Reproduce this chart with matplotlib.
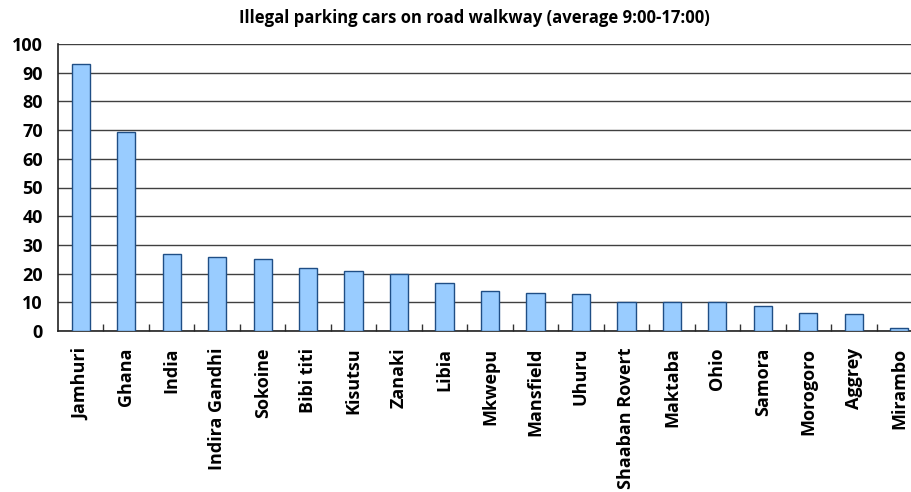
import matplotlib
matplotlib.use("Agg")
import matplotlib.pyplot as plt
import numpy as np

streets = ["Jamhuri", "Ghana", "India", "Indira Gandhi", "Sokoine", "Bibi titi",
           "Kisutsu", "Zanaki", "Libia", "Mkwepu", "Mansfield", "Uhuru",
           "Shaaban Rovert", "Maktaba", "Ohio", "Samora", "Morogoro", "Aggrey",
           "Mirambo"]
cars = [92.9, 69.3, 26.7, 25.8, 25.1, 22.1, 21.0, 20.0, 16.6, 13.8, 13.1, 12.8,
        10.0, 10.0, 10.0, 8.7, 6.2, 5.8, 0.9]
y_ticks = list(range(0, 101, 10))
title = "Illegal parking cars on road walkway (average 9:00-17:00)"

plt.rcParams["font.family"] = ["Open Sans", "DejaVu Sans"]

fig = plt.figure(figsize=(9.12, 4.92), dpi=100)
ax = fig.add_axes([58 / 912, 1 - 331 / 492, 864 / 912, 287 / 492])

x = np.arange(len(streets))
ax.bar(x, cars, width=0.4, color="#99CCFF", edgecolor="#1F4E85", linewidth=1.0, zorder=3)

ax.set_xlim(-0.5, len(streets) - 0.5)
ax.set_ylim(0, 100)
ax.set_yticks(y_ticks)
ax.set_yticklabels([str(v) for v in y_ticks], fontsize=13, fontweight="bold")
ax.tick_params(axis="y", length=0, pad=11)

ax.set_xticks(x)
ax.set_xticklabels(streets, rotation=90, fontsize=13, fontweight="bold")
ax.tick_params(axis="x", length=0, pad=12)
ax.set_xticks(np.arange(0.5, len(streets) - 0.5), minor=True)
ax.tick_params(axis="x", which="minor", direction="in", length=5, width=1, color="#333333")

ax.yaxis.grid(True, color="#404040", linewidth=1.0, zorder=0)
ax.set_axisbelow(True)

ax.spines["right"].set_visible(False)
ax.spines["top"].set_visible(False)
ax.spines["left"].set_color("#222222")
ax.spines["bottom"].set_color("#222222")
ax.spines["left"].set_linewidth(1.2)
ax.spines["bottom"].set_linewidth(1.2)

fig.text(474 / 912, 1 - 18 / 492, title, ha="center", va="center", fontsize=12, fontweight="bold")

fig.savefig("out.png", dpi=100)
